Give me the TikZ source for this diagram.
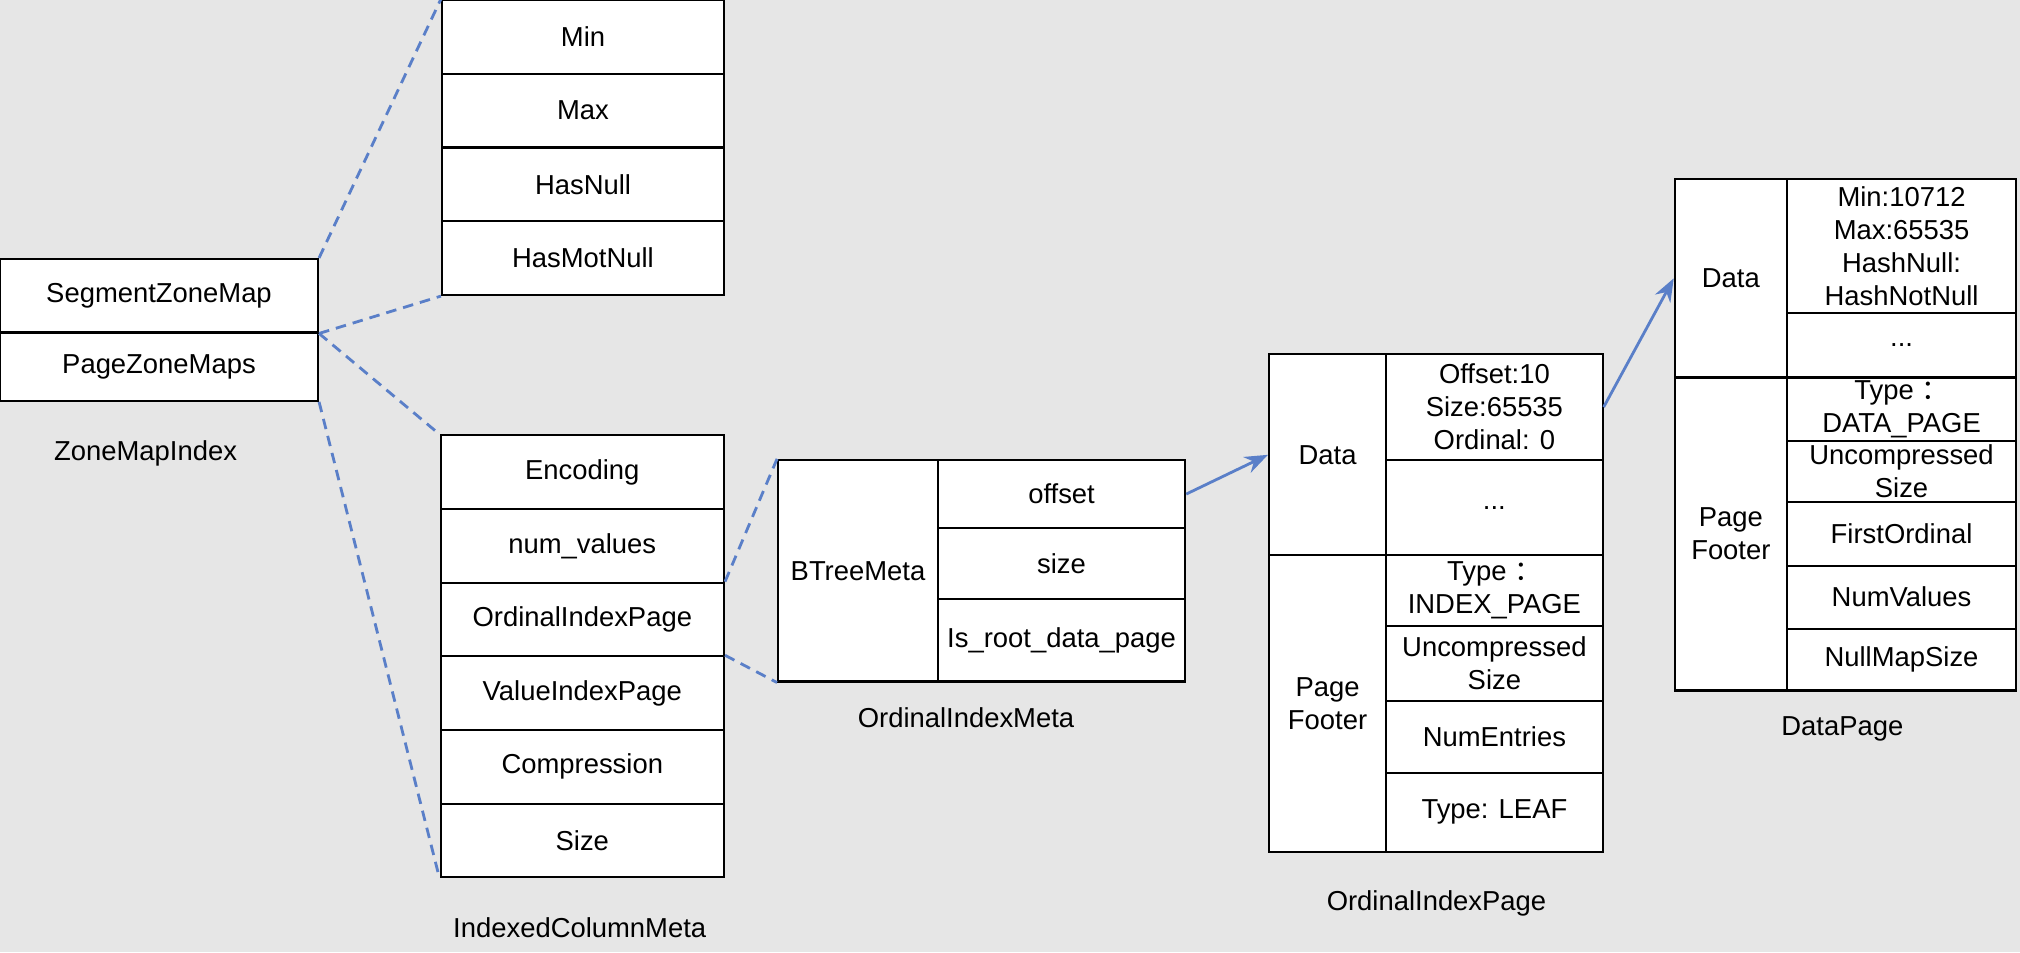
\documentclass[tikz,border=0pt]{standalone}
\usepackage{fontspec}
\setmainfont{Liberation Sans}
\newfontfamily\cjk{Noto Sans CJK SC}
\usepackage{xcolor}
\usetikzlibrary{arrows.meta}
\definecolor{bggray}{HTML}{E6E6E6}
\definecolor{linkblue}{HTML}{5A7FC8}
\newcommand{\fwcolon}{{\cjk ：}}

\begin{document}
\begin{tikzpicture}[
  cell/.style 2 args={draw, fill=white, line width=0.6pt, minimum width=#1cm,
    minimum height=#2cm, inner sep=0pt, align=center,
    font=\fontsize{7.8}{9.4}\selectfont},
  caption/.style={font=\fontsize{7.8}{9.4}\selectfont},
  link/.style={draw=linkblue, line width=0.8pt, dash pattern=on 3pt off 2pt},
  >=Stealth
]
  \fill[bggray] (0,0) rectangle (20.2,-9.52);
  \useasboundingbox (0,0) rectangle (20.2,-9.52);

  % ZoneMapIndex
  \node[cell={3.18}{0.734}] (szm) at (1.59,-2.957) {SegmentZoneMap};
  \node[cell={3.18}{0.683}] (pzm) at (1.59,-3.666) {PageZoneMaps};
  \node[caption] (zmilbl) at (1.456,-4.535) {ZoneMapIndex};

  % zone map fields
  \foreach \txt [count=\i] in {Min,Max,HasNull,HasMotNull}
    \node[cell={2.82}{0.7375}] (zm\i) at (5.83,{-0.369-0.7375*(\i-1)}) {\txt};

  % IndexedColumnMeta
  \foreach \txt [count=\i] in {Encoding,num\_values,OrdinalIndexPage,ValueIndexPage,Compression,Size}
    \node[cell={2.834}{0.7365}] (icm\i) at (5.823,{-4.722-0.7365*(\i-1)}) {\txt};
  \node[caption] (icmlbl) at (5.797,-9.276) {IndexedColumnMeta};

  % OrdinalIndexMeta
  \node[cell={1.598}{2.216}] (btree) at (8.58,-5.707) {BTreeMeta};
  \node[cell={2.473}{0.683}] (off) at (10.6155,-4.9405) {offset};
  \node[cell={2.473}{0.709}] (sz) at (10.6155,-5.6365) {size};
  \node[cell={2.473}{0.824}] (isroot) at (10.6155,-6.403) {Is\_root\_data\_page};
  \node[caption] (oimlbl) at (9.66,-7.176) {OrdinalIndexMeta};

  % OrdinalIndexPage
  \node[cell={1.172}{2.01}] (oipdata) at (13.276,-4.548) {Data};
  \node[cell={1.172}{2.963}] (oipfoot) at (13.276,-7.0345) {Page\\Footer};
  \node[cell={2.164}{1.056}] (oipr1) at (14.944,-4.071) {Offset:10\\Size:65535\\Ordinal: 0};
  \node[cell={2.164}{0.954}] (oipr2) at (14.944,-5.076) {...};
  \node[cell={2.164}{0.708}] (oipr3) at (14.944,-5.907) {Type \fwcolon\\INDEX\_PAGE};
  \node[cell={2.164}{0.747}] (oipr4) at (14.944,-6.6345) {Uncompressed\\Size};
  \node[cell={2.164}{0.722}] (oipr5) at (14.944,-7.369) {NumEntries};
  \node[cell={2.164}{0.786}] (oipr6) at (14.944,-8.123) {Type: LEAF};
  \node[caption] (oiplbl) at (14.365,-9.031) {OrdinalIndexPage};

  % DataPage
  \node[cell={1.121}{1.984}] (dpdata) at (17.3085,-2.783) {Data};
  \node[cell={1.121}{3.13}] (dpfoot) at (17.3085,-5.34) {Page\\Footer};
  \node[cell={2.293}{1.34}] (dpr1) at (19.0155,-2.461) {Min:10712\\Max:65535\\HashNull:\\HashNotNull};
  \node[cell={2.293}{0.644}] (dpr2) at (19.0155,-3.453) {...};
  \node[cell={2.293}{0.631}] (dpr3) at (19.0155,-4.0905) {Type \fwcolon\\DATA\_PAGE};
  \node[cell={2.293}{0.618}] (dpr4) at (19.0155,-4.715) {Uncompressed\\Size};
  \node[cell={2.293}{0.632}] (dpr5) at (19.0155,-5.34) {FirstOrdinal};
  \node[cell={2.293}{0.631}] (dpr6) at (19.0155,-5.9715) {NumValues};
  \node[cell={2.293}{0.618}] (dpr7) at (19.0155,-6.596) {NullMapSize};
  \node[caption] (dplbl) at (18.423,-7.292) {DataPage};

  \draw[link] (szm.north east) -- (zm1.north west);
  \draw[link] (szm.south east) -- (zm4.south west);
  \draw[link] (szm.south east) -- (icm1.north west);
  \draw[link] (pzm.south east) -- (icm6.south west);
  \draw[link] (icm3.north east) -- (btree.north west);
  \draw[link] (icm4.north east) -- (btree.south west);

  \draw[->, linkblue, line width=0.8pt] (off.east) -- (oipdata.west);
  \draw[->, linkblue, line width=0.8pt] (oipr1.east) -- (dpdata.west);
\end{tikzpicture}
\end{document}
